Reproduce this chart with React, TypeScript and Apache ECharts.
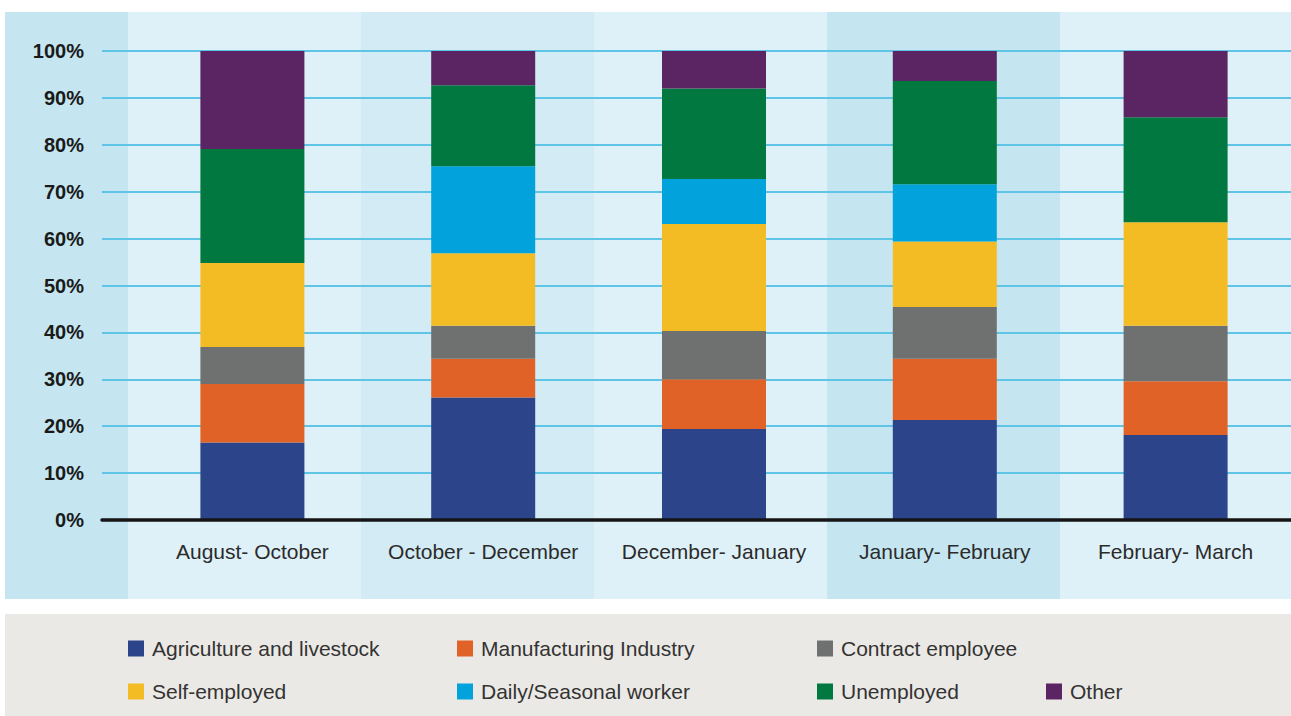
import React, { useEffect, useRef } from "react";
import * as echarts from "echarts";

const categories = [
  "August- October",
  "October - December",
  "December- January",
  "January- February",
  "February- March",
];

const seriesNames = [
  "Agriculture and livestock",
  "Manufacturing Industry",
  "Contract employee",
  "Self-employed",
  "Daily/Seasonal worker",
  "Unemployed",
  "Other",
];

const agriculture = [16.5, 26.1, 19.4, 21.3, 18.1];
const manufacturing = [12.5, 8.3, 10.6, 13.1, 11.5];
const contract = [7.9, 7.0, 10.3, 11.0, 11.8];
const selfEmployed = [17.9, 15.5, 22.8, 14.0, 22.1];
const dailySeasonal = [0, 18.5, 9.6, 12.2, 0];
const unemployed = [24.3, 17.3, 19.3, 22.0, 22.4];
const other = [20.9, 7.3, 8.0, 6.6, 14.1];

const yTicks = [0, 10, 20, 30, 40, 50, 60, 70, 80, 90, 100];

const seriesValues = [
  agriculture,
  manufacturing,
  contract,
  selfEmployed,
  dailySeasonal,
  unemployed,
  other,
];

const seriesColors = [
  "#2c4489",
  "#e06227",
  "#6f7170",
  "#f4bc24",
  "#02a3dd",
  "#00783f",
  "#5b2463",
];

const FONT = "'Liberation Sans', Arial, sans-serif";

export default function App() {
  const ref = useRef<HTMLDivElement>(null);

  useEffect(() => {
    if (!ref.current) return;
    const chart = echarts.init(ref.current, null, { renderer: "svg" });

    const legendPos = [
      [128, 638],
      [457, 638],
      [817, 638],
      [128, 681],
      [457, 681],
      [817, 681],
      [1046, 681],
    ];

    const bands = [
      { x: 5, w: 123, c: "#c5e6f0" },
      { x: 128, w: 233, c: "#dff1f8" },
      { x: 361, w: 233, c: "#d3ebf5" },
      { x: 594, w: 233, c: "#dff1f8" },
      { x: 827, w: 233, c: "#c5e6f0" },
      { x: 1060, w: 231, c: "#dff1f8" },
    ];

    const option: any = {
      animation: false,
      backgroundColor: "#ffffff",
      graphic: [
        ...bands.map((b) => ({
          type: "rect",
          z: -10,
          silent: true,
          shape: { x: b.x, y: 12, width: b.w, height: 587 },
          style: { fill: b.c },
        })),
        {
          type: "rect",
          z: -10,
          silent: true,
          shape: { x: 5, y: 614, width: 1286, height: 102 },
          style: { fill: "#ebe9e5" },
        },
      ],
      grid: [
        { left: 137, right: -12, top: 51, height: 469 },
        { left: 102, right: 0, top: 51, height: 469 },
      ],
      xAxis: [
        {
          type: "category",
          gridIndex: 0,
          data: categories,
          axisLine: { show: false },
          axisTick: { show: false },
          axisLabel: {
            interval: 0,
            fontFamily: FONT,
            fontSize: 21,
            color: "#2b2b2b",
            margin: 21,
          },
        },
        {
          type: "value",
          gridIndex: 1,
          min: 0,
          max: 1,
          z: 5,
          axisLine: {
            show: true,
            onZero: false,
            lineStyle: { color: "#151515", width: 3.5 },
          },
          axisTick: { show: false },
          axisLabel: { show: false },
          splitLine: { show: false },
        },
      ],
      yAxis: [
        {
          type: "value",
          gridIndex: 0,
          min: 0,
          max: 100,
          show: false,
          splitLine: { show: false },
        },
        {
          type: "value",
          gridIndex: 1,
          min: yTicks[0],
          max: yTicks[yTicks.length - 1],
          interval: 10,
          axisLine: { show: false },
          axisTick: { show: false },
          axisLabel: {
            formatter: "{value}%",
            fontFamily: FONT,
            fontSize: 20,
            fontWeight: "bold",
            color: "#1a1a1a",
            margin: 18,
          },
          splitLine: {
            show: true,
            lineStyle: { color: "#5ec5e6", width: 2 },
          },
        },
      ],
      legend: seriesNames.map((name, i) => ({
        data: [name],
        left: legendPos[i][0],
        top: legendPos[i][1],
        padding: 0,
        icon: "rect",
        itemWidth: 16,
        itemHeight: 16,
        selectedMode: false,
        textStyle: {
          fontFamily: FONT,
          fontSize: 21,
          lineHeight: 20,
          color: "#333333",
          padding: [0, 0, 0, 3],
        },
      })),
      series: seriesNames.map((name, i) => ({
        name,
        type: "bar",
        stack: "total",
        xAxisIndex: 0,
        yAxisIndex: 0,
        barWidth: 104,
        data: seriesValues[i],
        itemStyle: { color: seriesColors[i] },
      })),
    };

    chart.setOption(option);
    return () => chart.dispose();
  }, []);

  return (
    <div
      ref={ref}
      style={{ position: "fixed", left: 0, top: 0, width: 1291, height: 716 }}
    />
  );
}
